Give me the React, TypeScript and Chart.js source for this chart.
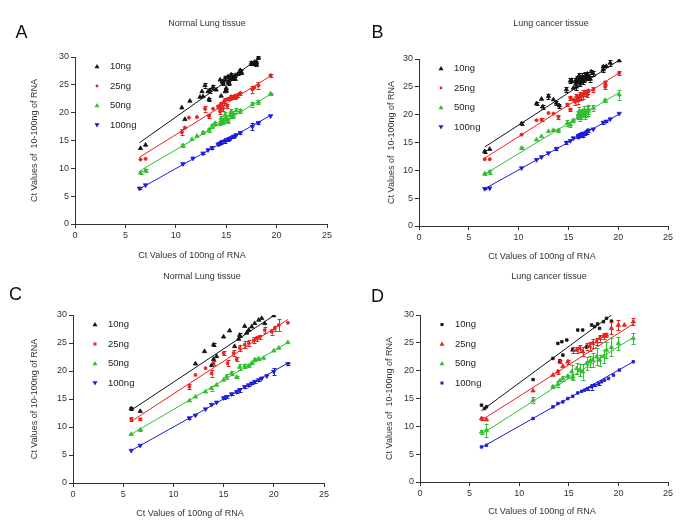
import React, { useEffect, useRef } from 'react';
import { Chart, registerables } from 'chart.js';
Chart.register(...registerables);

// ---------- data: [x (Ct 100ng), y (Ct 10-100ng), error] ----------
const SERIES_NAMES = ['10ng', '25ng', '50ng', '100ng'];
const X_TICK_STEP = 5;
const Y_TICK_STEP = 5;

const A10 = [[6.5,13.6,0],[7.0,14.2,0],[10.6,20.9,0],[10.9,18.8,0],[11.4,22.1,0],[12.4,22.8,0],[12.6,23.8,0],[12.7,22.9,0],[12.9,24.9,0.4],[13.2,23.8,0],[13.3,22.4,0.3],[13.4,24.0,0.4],[13.7,24.6,0.3],[14.0,24.1,0],[14.4,25.9,0],[14.5,23.0,0],[14.6,25.6,0.3],[14.7,25.3,0.3],[14.9,26.2,0.3],[14.9,23.8,0],[15.0,24.4,0],[15.0,24.0,0.3],[15.2,25.5,0.4],[15.2,26.5,0.3],[15.3,25.3,0.3],[15.4,26.0,0],[15.5,26.8,0.3],[15.7,26.2,0.3],[15.7,26.3,0.3],[15.9,26.0,0],[15.9,26.7,0.3],[16.2,27.0,0.3],[16.4,27.6,0.3],[16.5,27.1,0],[16.5,27.3,0.3],[17.5,28.9,0.3],[17.7,28.8,0.3],[17.8,29.1,0],[18.0,28.5,0],[18.0,28.9,0.3],[18.0,29.1,0],[18.2,29.9,0.3]];
const A25 = [[6.5,11.6,0],[7.0,11.7,0],[10.6,16.5,0.5],[10.9,17.3,0],[11.3,19.1,0],[12.1,19.2,0],[12.9,20.7,0.5],[13.3,19.4,0.3],[13.7,20.7,0],[14.2,21.1,0.3],[14.4,21.0,0.5],[14.4,20.2,0.4],[14.5,21.6,0.3],[14.7,20.8,0.5],[14.8,22.0,0.3],[14.9,22.2,0.4],[15.1,21.2,0.3],[15.2,22.5,0.3],[15.4,22.5,0.3],[15.5,22.9,0.3],[15.7,22.8,0.3],[15.9,23.0,0.3],[16.0,22.6,0],[16.2,23.2,0.3],[16.4,23.5,0.3],[17.6,24.2,0.6],[17.8,24.5,0],[18.2,24.9,0.6],[19.4,26.7,0.3]];
const A50 = [[6.5,9.2,0.3],[7.0,9.6,0.3],[10.7,14.1,0.3],[11.6,15.2,0],[12.1,15.8,0],[12.7,16.4,0.3],[13.3,16.9,0.4],[13.6,17.6,0.4],[13.9,18.1,0.3],[14.4,18.1,0.4],[14.5,19.0,0.4],[14.7,18.6,0.5],[14.7,18.3,0.4],[14.9,19.6,0.5],[15.0,19.1,0.5],[15.0,18.8,0.5],[15.2,18.5,0.4],[15.4,19.5,0.5],[15.5,20.2,0.5],[15.7,19.8,0.5],[15.7,19.4,0.4],[16.0,20.4,0.4],[16.4,20.3,0.3],[17.6,21.5,0.4],[18.2,21.9,0.4],[19.4,23.4,0.2]];
const A100 = [[6.4,6.4,0.2],[7.0,7.0,0],[10.7,10.8,0],[11.7,11.8,0],[12.7,12.7,0.2],[13.2,13.3,0],[13.6,13.7,0.2],[14.2,14.3,0],[14.3,14.4,0.2],[14.5,14.6,0.3],[14.6,14.8,0.2],[14.9,14.9,0.3],[15.0,15.1,0.2],[15.2,15.2,0.3],[15.3,15.3,0.2],[15.5,15.5,0],[15.7,15.7,0.2],[15.9,15.8,0],[16.0,16.0,0],[16.4,16.4,0.2],[17.6,17.5,0.7],[18.2,18.2,0.2],[19.4,19.4,0]];
// fit lines: [x0, y0, x1, y1]
const FIT_A = [[6.4,14.6,18.2,29.7],[6.4,12.0,19.4,26.6],[6.4,9.5,19.4,23.3],[6.3,6.2,19.4,19.5]];

const B10 = [[6.6,13.4,0.2],[7.1,13.8,0],[10.3,18.4,0.3],[11.8,22.0,0.3],[12.3,22.8,0],[12.4,21.4,0.4],[13.0,23.3,0.5],[13.5,22.7,0],[13.8,22.1,0.4],[14.1,21.6,0.4],[14.8,24.5,0.4],[15.2,26.1,0.4],[15.3,26.2,0.4],[15.5,24.8,0],[15.7,26.0,0.5],[15.8,25.8,0.5],[15.8,25.0,0.6],[15.9,26.6,0.4],[16.0,26.5,0.5],[16.1,26.3,0.5],[16.1,27.0,0.5],[16.2,25.6,0.5],[16.3,26.6,0.4],[16.4,26.8,0.6],[16.5,26.0,0.5],[16.6,26.3,0.5],[16.7,27.1,0.5],[16.8,26.9,0.5],[16.9,27.3,0.4],[17.0,26.7,0.5],[17.2,26.4,0.5],[17.3,27.7,0.4],[17.5,27.4,0.5],[18.5,28.1,0.5],[18.5,28.6,0.4],[18.8,28.7,0],[19.2,29.3,0.5],[20.1,29.7,0]];
const B25 = [[6.6,12.0,0],[7.1,12.0,0],[10.3,16.4,0],[11.8,19.0,0],[12.3,19.1,0.3],[13.0,20.3,0],[13.5,20.2,0],[14.0,19.6,0.3],[14.9,21.8,0.3],[15.2,23.0,0.4],[15.2,20.9,0.3],[15.5,22.7,0],[15.7,22.3,0.5],[15.8,23.2,0.5],[16.0,23.0,0.5],[16.0,22.6,0.6],[16.2,23.5,0.6],[16.3,23.3,0.6],[16.5,23.6,0.8],[16.6,23.9,0.6],[16.8,23.9,0.6],[16.9,23.6,0.5],[17.0,24.2,0.5],[17.5,24.5,0.4],[18.7,25.8,0.3],[18.7,25.0,0.4],[20.1,27.5,0.4]];
const B50 = [[6.6,9.4,0.2],[7.1,9.7,0.3],[10.3,14.0,0.2],[11.8,15.5,0],[12.3,16.1,0],[13.0,17.0,0],[13.5,17.2,0.2],[14.0,17.2,0.3],[14.9,18.5,0.5],[15.2,18.2,0.4],[15.5,19.0,0.3],[16.0,19.7,0.5],[16.0,20.0,0.6],[16.1,20.6,0.7],[16.2,19.6,0.7],[16.3,20.0,0.8],[16.4,20.3,0.8],[16.6,20.8,0.8],[16.7,20.3,0.8],[16.7,19.8,0.6],[16.8,20.2,0.7],[17.0,20.6,0.9],[17.0,21.0,0.8],[17.5,21.2,0.5],[18.7,22.6,0.3],[20.1,23.6,0.9]];
const B100 = [[6.6,6.7,0.1],[7.1,6.8,0],[10.3,10.4,0],[11.8,11.9,0],[12.3,12.4,0],[13.0,13.1,0],[13.8,13.9,0.2],[14.8,15.0,0.2],[15.2,15.3,0],[15.5,15.8,0],[16.0,16.2,0.3],[16.0,16.0,0.2],[16.2,16.4,0.3],[16.3,16.3,0.3],[16.4,16.6,0.3],[16.5,16.6,0.3],[16.5,16.2,0.3],[16.7,16.6,0.3],[16.8,16.8,0.3],[16.9,16.9,0.3],[17.0,17.2,0.3],[17.5,17.4,0],[18.5,18.6,0.2],[18.8,18.8,0.2],[19.2,19.2,0],[20.1,20.2,0]];
const FIT_B = [[6.6,14.2,20.1,29.8],[6.6,12.2,20.1,27.5],[6.6,9.3,20.1,24.0],[6.6,6.7,20.1,20.1]];

const C10 = [[5.8,13.3,0.2],[6.7,12.8,0],[12.2,21.3,0],[13.1,23.5,0],[13.8,21.0,0],[14.0,22.1,0],[14.0,24.7,0.3],[14.3,22.6,0],[15.0,26.1,0],[15.6,27.2,0],[16.1,24.4,0],[16.5,25.7,0],[16.6,26.4,0.3],[17.1,28.0,0],[17.3,26.8,0],[17.5,27.3,0],[17.8,27.9,0],[18.1,28.5,0],[18.5,29.1,0],[18.8,29.4,0],[19.1,28.5,0],[20.0,29.9,0]];
const C25 = [[5.8,11.4,0.3],[6.7,11.4,0.2],[11.6,17.2,0.4],[12.2,19.3,0],[13.2,20.5,0],[13.8,19.6,0.6],[14.0,21.4,0.3],[15.0,23.2,0.4],[15.4,21.4,0.5],[16.0,23.2,0.5],[16.3,22.1,0.4],[16.6,24.1,0.6],[17.1,24.7,0.6],[17.5,25.0,0.5],[18.0,25.5,0.5],[18.3,25.8,0.5],[18.6,26.1,0.4],[19.1,27.3,0.6],[19.8,27.0,0.5],[20.1,27.6,0.5],[20.5,28.2,1.0],[21.4,28.6,0]];
const C50 = [[5.8,8.7,0],[6.7,9.5,0.2],[11.6,14.7,0],[12.2,15.4,0],[13.2,16.3,0],[13.8,16.9,0.4],[14.3,17.5,0],[15.0,18.4,0],[15.3,19.0,0.4],[15.8,19.6,0.4],[16.3,18.9,0.2],[16.6,20.7,0.6],[17.1,20.9,0.4],[17.5,20.9,0.2],[17.8,21.4,0.2],[18.1,22.0,0.3],[18.5,22.2,0.2],[19.0,22.3,0],[20.0,23.6,0],[20.5,24.1,0],[21.4,25.1,0]];
const C100 = [[5.8,5.8,0],[6.7,6.7,0],[11.6,11.6,0.2],[12.2,12.1,0],[13.2,13.2,0],[13.8,14.0,0],[14.3,14.4,0],[15.0,15.2,0.2],[15.3,15.4,0.2],[15.8,15.9,0.2],[16.3,16.3,0.3],[16.6,16.6,0.3],[17.1,17.2,0.2],[17.5,17.5,0.2],[17.8,17.8,0.2],[18.1,18.1,0.2],[18.5,18.4,0.2],[18.8,18.7,0],[19.3,19.1,0],[20.0,19.9,0.6],[21.4,21.3,0.2]];
const FIT_C = [[5.8,13.0,20.0,29.9],[5.8,11.0,21.4,29.2],[5.8,8.7,21.4,25.1],[5.8,5.8,21.4,21.4]];

const D10 = [[6.2,13.8,0],[6.5,13.2,0],[6.7,13.5,0],[11.4,18.4,0],[13.4,22.2,0],[13.9,24.9,0],[14.1,21.8,0],[14.3,25.2,0],[14.4,22.8,0],[14.8,25.5,0],[15.4,23.8,0],[15.9,27.3,0],[16.4,27.3,0],[16.8,24.2,0],[17.3,28.2,0],[17.6,27.9,0],[17.9,28.4,0],[18.1,27.6,0],[18.5,28.8,0],[18.8,29.4,0],[19.3,28.9,0]];
const D25 = [[6.2,11.4,0.2],[6.7,11.2,0],[11.4,16.4,0],[13.4,19.2,0],[13.9,19.8,0.4],[14.1,21.6,0.3],[14.4,20.8,0],[14.9,21.6,0.4],[15.4,23.7,0.6],[15.8,23.7,0.5],[16.1,24.0,0.6],[16.4,23.4,0.8],[16.8,24.4,0.6],[17.1,24.4,0.8],[17.4,24.9,0.8],[17.8,25.2,0.6],[18.1,25.8,0.6],[18.5,26.2,0.5],[18.8,26.4,0.4],[19.3,27.6,1.1],[20.0,28.2,0.9],[20.6,28.2,0],[21.5,28.8,0.6]];
const D50 = [[6.2,9.0,0.3],[6.7,9.3,1.2],[11.4,14.7,0.5],[13.4,17.1,0.3],[13.9,17.6,0.5],[14.1,18.2,0],[14.4,18.6,0.4],[14.9,19.0,0.3],[15.3,19.8,1.3],[15.4,18.9,0.5],[15.8,20.4,1.0],[16.1,20.1,1.1],[16.4,19.8,1.4],[16.8,21.3,1.2],[17.1,21.6,1.0],[17.4,21.9,1.3],[17.8,22.5,1.5],[18.1,21.9,1.0],[18.5,22.6,1.2],[18.8,23.7,1.5],[19.3,24.2,1.6],[20.0,24.9,1.2],[21.5,25.8,1.0]];
const D100 = [[6.2,6.3,0],[6.7,6.6,0],[11.4,11.4,0],[13.4,13.5,0],[13.9,14.1,0],[14.4,14.4,0],[14.9,15.0,0],[15.4,15.4,0],[15.9,16.0,0],[16.3,16.3,0],[16.6,16.5,0],[16.9,16.8,0.2],[17.3,17.1,0.5],[17.6,17.4,0.2],[18.0,17.7,0.2],[18.3,18.0,0],[18.6,18.3,0],[19.0,18.6,0],[19.5,19.2,0],[20.1,20.1,0],[21.5,21.6,0]];
const FIT_D = [[6.2,12.8,19.3,30.0],[6.2,11.1,21.5,28.4],[6.2,8.6,21.5,26.0],[6.2,6.2,21.5,21.6]];

// ---------- styles / layout ----------
const FONT = '"Liberation Sans", Arial, sans-serif';
const COLORS = ['#111111', '#e8221e', '#2fbf2f', '#1c1cd8'];
const AXIS_COLOR = '#333333';
const W = 685, H = 528;
const YW = 25, XH = 22;

const PANELS = [
  { letter: 'A', title: 'Normal Lung tissue', ylabel: 'Ct Values of  10-100ng of RNA',
    area: { l: 75, r: 327, t: 57, b: 224 }, series: [A10, A25, A50, A100], fits: FIT_A,
    shapes: ['tri', 'circle', 'tri', 'tridown'],
    letterPos: [21.5, 33], titlePos: [207, 24], xlabPos: [192, 256], ylabX: 35 },
  { letter: 'B', title: 'Lung cancer tissue', ylabel: 'Ct Values of  10-100ng of RNA',
    area: { l: 419, r: 668, t: 59, b: 226 }, series: [B10, B25, B50, B100], fits: FIT_B,
    shapes: ['tri', 'circle', 'tri', 'tridown'],
    letterPos: [377.5, 33], titlePos: [551, 24], xlabPos: [542, 257], ylabX: 392 },
  { letter: 'C', title: 'Normal Lung tissue', ylabel: 'Ct Values of 10-100ng of RNA',
    area: { l: 73, r: 324, t: 315, b: 483 }, series: [C10, C25, C50, C100], fits: FIT_C,
    shapes: ['tri', 'rect', 'tri', 'tridown'],
    letterPos: [15.5, 295], titlePos: [202, 277], xlabPos: [190, 514], ylabX: 35 },
  { letter: 'D', title: 'Lung cancer tissue', ylabel: 'Ct Values of  10-100ng of RNA',
    area: { l: 420, r: 668, t: 315, b: 482 }, series: [D10, D25, D50, D100], fits: FIT_D,
    shapes: ['rect', 'tri', 'tri', 'rect'],
    letterPos: [377.5, 297.5], titlePos: [549, 277], xlabPos: [542, 512], ylabX: 390 },
];

const CHART_STYLE: Record<string, any> = {
  tri: { pointStyle: 'triangle', rotation: 0, radius: 2.5 },
  tridown: { pointStyle: 'triangle', rotation: 180, radius: 2.5 },
  circle: { pointStyle: 'circle', rotation: 0, radius: 1.6 },
  rect: { pointStyle: 'rect', rotation: 0, radius: 1.8 },
};

function drawMarker(ctx: CanvasRenderingContext2D, shape: string, x: number, y: number, color: string) {
  ctx.save();
  ctx.fillStyle = color;
  ctx.beginPath();
  if (shape === 'tri') {
    ctx.moveTo(x, y - 2.5); ctx.lineTo(x + 2.5, y + 1.8); ctx.lineTo(x - 2.5, y + 1.8);
  } else if (shape === 'tridown') {
    ctx.moveTo(x, y + 2.5); ctx.lineTo(x + 2.5, y - 1.8); ctx.lineTo(x - 2.5, y - 1.8);
  } else if (shape === 'circle') {
    ctx.arc(x, y, 1.4, 0, Math.PI * 2);
  } else {
    ctx.rect(x - 1.5, y - 1.5, 3, 3);
  }
  ctx.closePath();
  ctx.fill();
  ctx.restore();
}

function makePlugin(p: any) {
  return {
    id: 'panelDecor' + p.letter,
    afterDatasetsDraw(chart: any) {
      const ctx = chart.ctx as CanvasRenderingContext2D;
      const xs = chart.scales.x, ys = chart.scales.y;
      // error bars
      chart.data.datasets.forEach((ds: any) => {
        if (!ds.isPoints) return;
        ctx.save();
        ctx.strokeStyle = ds.borderColor;
        ctx.lineWidth = 1;
        ds.data.forEach((pt: any) => {
          if (!pt.e) return;
          const px = Math.round(xs.getPixelForValue(pt.x)) + 0.5;
          const y1 = ys.getPixelForValue(pt.y - pt.e);
          const y2 = ys.getPixelForValue(pt.y + pt.e);
          ctx.beginPath();
          ctx.moveTo(px, y1); ctx.lineTo(px, y2);
          ctx.moveTo(px - 2, Math.round(y1) + 0.5); ctx.lineTo(px + 2, Math.round(y1) + 0.5);
          ctx.moveTo(px - 2, Math.round(y2) + 0.5); ctx.lineTo(px + 2, Math.round(y2) + 0.5);
          ctx.stroke();
        });
        ctx.restore();
      });
    },
    afterDraw(chart: any) {
      const ctx = chart.ctx as CanvasRenderingContext2D;
      const a = chart.chartArea;
      ctx.save();
      // panel letter
      ctx.fillStyle = '#111';
      ctx.textAlign = 'center';
      ctx.textBaseline = 'middle';
      ctx.font = `18px ${FONT}`;
      ctx.fillText(p.letter, p.letterPos[0], p.letterPos[1]);
      // title
      ctx.fillStyle = '#333';
      ctx.font = `9px ${FONT}`;
      ctx.fillText(p.title, p.titlePos[0], p.titlePos[1]);
      // x label
      ctx.fillText('Ct Values of 100ng of RNA', p.xlabPos[0], p.xlabPos[1]);
      // y label
      ctx.save();
      ctx.translate(p.ylabX, (a.top + a.bottom) / 2);
      ctx.rotate(-Math.PI / 2);
      ctx.fillText(p.ylabel, 0, 0);
      ctx.restore();
      // legend
      const rows = [9.5, 29, 48.5, 68];
      ctx.textAlign = 'left';
      ctx.font = `9.5px ${FONT}`;
      SERIES_NAMES.forEach((name, i) => {
        const y = a.top + rows[i];
        drawMarker(ctx, p.shapes[i], a.left + 22, y, COLORS[i]);
        ctx.fillStyle = '#222';
        ctx.fillText(name, a.left + 35, y);
      });
      ctx.restore();
    },
  };
}

function Panel({ p }: { p: any }) {
  const ref = useRef<HTMLCanvasElement | null>(null);
  useEffect(() => {
    if (!ref.current) return;
    const datasets: any[] = [];
    p.fits.forEach((f: number[], i: number) => {
      datasets.push({
        data: [{ x: f[0], y: f[1] }, { x: f[2], y: f[3] }],
        showLine: true, borderColor: COLORS[i], borderWidth: 1, pointRadius: 0, fill: false,
      });
    });
    p.series.forEach((s: number[][], i: number) => {
      const st = CHART_STYLE[p.shapes[i]];
      datasets.push({
        isPoints: true,
        data: s.map(([x, y, e]) => ({ x, y, e })),
        showLine: false,
        pointStyle: st.pointStyle, rotation: st.rotation, pointRadius: st.radius,
        backgroundColor: COLORS[i], borderColor: COLORS[i], borderWidth: 0.8,
      });
    });
    const tickFont = { size: 9, family: FONT };
    const chart = new Chart(ref.current, {
      type: 'scatter',
      data: { datasets },
      options: {
        responsive: false,
        animation: false,
        devicePixelRatio: 1,
        layout: { padding: { left: p.area.l - YW, right: W - p.area.r, top: p.area.t, bottom: H - p.area.b - XH } },
        plugins: { legend: { display: false }, tooltip: { enabled: false }, title: { display: false } },
        scales: {
          x: {
            type: 'linear', min: 0, max: 25,
            ticks: { stepSize: X_TICK_STEP, font: tickFont, color: '#333', padding: 2 },
            grid: { display: true, drawOnChartArea: false, drawTicks: true, tickLength: 4, color: AXIS_COLOR },
            border: { display: true, color: AXIS_COLOR, width: 1 },
            afterFit: (s: any) => { s.height = XH; },
          },
          y: {
            type: 'linear', min: 0, max: 30,
            ticks: { stepSize: Y_TICK_STEP, font: tickFont, color: '#333', padding: 2 },
            grid: { display: true, drawOnChartArea: false, drawTicks: true, tickLength: 4, color: AXIS_COLOR },
            border: { display: true, color: AXIS_COLOR, width: 1 },
            afterFit: (s: any) => { s.width = YW; },
          },
        },
      } as any,
      plugins: [makePlugin(p)],
    });
    return () => chart.destroy();
  }, []);
  return (
    <canvas ref={ref} width={W} height={H}
      style={{ position: 'absolute', left: 0, top: 0, width: W, height: H }} />
  );
}

export default function App() {
  return (
    <div style={{ position: 'absolute', left: 0, top: 0, width: W, height: H, background: '#fff' }}>
      {PANELS.map((p) => <Panel key={p.letter} p={p} />)}
    </div>
  );
}
